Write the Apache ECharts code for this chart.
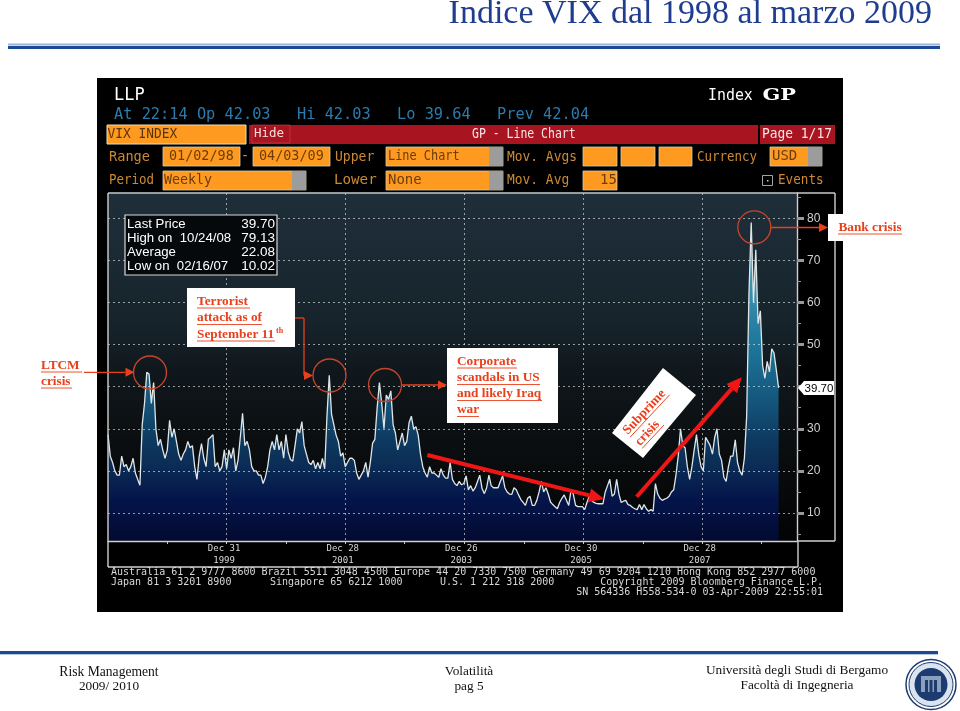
<!DOCTYPE html>
<html><head><meta charset="utf-8">
<script src="https://cdn.jsdelivr.net/npm/echarts@6/dist/echarts.min.js"></script>
<style>html,body{margin:0;padding:0;background:#fff}#c{width:960px;height:711px}</style>
</head><body><div id="c"></div>
<script>
// fortnightly VIX closes, starting 2 Jan 1998
const vix1998_2000 = [28.6,23.5,22,20,19,19,23.5,21,21.5,20,21,23,19.5,18,16.6,31,36,43.4,43,36,41,30,26,27.5,25,23,25,32,28,30,27,24,22.5,24,25,27,25.5,26,21,18,23.5,26.5,23,21,27.5,28,28.6,21,22,20,21,25,20.5,25,23,25.5,20,22.5,28,33.7,26,27,25,21,20,20,19,19,17,18.5,21,25];
const vix2000_2003 = [27,25,28.6,25,27,23,28.6,24.5,22.7,22.3,26,30,29,31.7,26,24,22,21.5,22.5,20.5,22,20.5,23,20.5,33,42.7,33.5,31,28.5,27,23.5,24.3,21,22,23,23,22.5,19.5,18,19,20,22,18.5,22,26.6,27.5,35,41,36,30,38,37,39,31,29,25,27,29,26,27,31.5,33,30,30.5,28.5,24,21,19.5,18.5,21,19.5,19.5,19,18.5];
const vix2003_2006 = [20.5,19,18.3,18.3,22,18,17,16.5,17.5,16.7,17,18.8,15.5,16.5,15.2,16,17.5,19,15.8,14.6,16,19,16.5,16,16,16,17.5,18.8,16,15,14.5,14.4,16,15.5,14.3,13.2,12.5,11.8,13.5,14,11.8,11.8,13,15,17.5,15,16,14.5,12.6,12,11.5,11,12.5,13.5,14.3,13,11.8,15.5,14.5,11.8,11.5,11.5,11.5,10.8,12.5,14,13,12.5,12.3,12.2,12.2,12.2];
const vix2006_2009 = [15,16.5,18,14,14.5,18,14.5,12.5,12.8,13,12,11.8,11.3,11,10.8,12,10.8,12,11,10.4,10.8,10.4,17,14.5,13.5,13,13.3,13.5,14,15,15.5,19,23.5,30,26,25.5,21,18,21,25,28.6,24,21,20,28,27,26,24,28,30,24,22.5,18.5,17.5,21,23.5,23.5,27.4,22,20,19,23,33,62,79,60,72.5,55,58,45,42,46,43.5,49,48,44,39.7];
const startDate = Date.UTC(1998,0,2);
const endDate = Date.UTC(2009,7,1);
const stepDays = 14;
const labelDates = [Date.UTC(1999,11,31),Date.UTC(2001,11,28),Date.UTC(2003,11,26),Date.UTC(2005,11,30),Date.UTC(2007,11,28)];
const labelText = ['Dec 31\n1999','Dec 28\n2001','Dec 26\n2003','Dec 30\n2005','Dec 28\n2007'];
const oddYearTicks = [Date.UTC(1998,11,31),Date.UTC(2000,11,29),Date.UTC(2002,11,27),Date.UTC(2004,11,31),Date.UTC(2006,11,29),Date.UTC(2008,11,26)];
const majorTicks = [10,20,30,40,50,60,70,80];
const minorTicks = [5,15,25,35,45,55,65,75,85];

const vix = [].concat(vix1998_2000,vix2000_2003,vix2003_2006,vix2006_2009);
const seriesData = vix.map((v,i)=>[startDate+i*stepDays*86400000,v]);

const MONO='"DejaVu Sans Mono",monospace', SANS='"Liberation Sans",Arial,sans-serif', SERIF='"Liberation Serif",serif';
const OR='#ff9a20', ANN='#e8401c', ANNS=13.3;
const els=[];
const rect=(x,y,w,h,fill,z,stroke,lw)=>els.push({type:'rect',z:z||20,silent:true,shape:{x,y,width:w,height:h},style:{fill:fill||'transparent',stroke:stroke||null,lineWidth:lw||1}});
const txt=(x,y,t,o)=>{o=o||{};els.push({type:'text',z:o.z||22,silent:true,x,y,scaleX:o.sx||1,rotation:o.rot||0,style:{text:t,fill:o.c||'#fff',font:(o.w||'normal')+' '+(o.s||15)+'px '+(o.f||MONO),align:o.a||'left',verticalAlign:'middle'}});};
const line=(x1,y1,x2,y2,c,w,z)=>els.push({type:'line',z:z||20,silent:true,shape:{x1,y1,x2,y2},style:{stroke:c,lineWidth:w||1}});
const poly=(pts,c,z)=>els.push({type:'polygon',z:z||31,silent:true,shape:{points:pts},style:{fill:c}});
const arrow=(x1,y1,x2,y2,c,w,hl,hw)=>{const a=Math.atan2(y2-y1,x2-x1),bx=x2-hl*Math.cos(a),by=y2-hl*Math.sin(a),nx=-Math.sin(a),ny=Math.cos(a);
 line(x1,y1,bx,by,c,w,31);poly([[x2,y2],[bx+nx*hw,by+ny*hw],[bx-nx*hw,by-ny*hw]],c);};
const circle=(cx,cy,r=16.5)=>els.push({type:'circle',z:31,silent:true,shape:{cx,cy,r},style:{fill:'transparent',stroke:'#c8442a',lineWidth:1.3}});
const ulabel=(x,y,t,o)=>{o=o||{};txt(x,y,t,{f:SERIF,w:'bold',s:ANNS,c:ANN,z:33,a:o.a});
 const w=o.wd; const x0=o.a==='center'?x-w/2:x; line(x0,y+6.5,x0+w,y+6.5,ANN,.9,33);};

// page
txt(932,14,'Indice VIX dal 1998 al marzo 2009',{f:SERIF,s:34,c:'#1f3d8f',a:'right'});
rect(8,43.5,932,2,'#9db4d8',20);rect(8,46,932,3,'#1c4a94',20);
rect(0,651,938,3,'#1c4a94',20);rect(0,654,938,1,'#b8c8de',20);
// panel
rect(97,78,746,534,'#000',-5);
txt(114,95.5,'LLP',{s:17});
txt(708,95.5,'Index',{s:16,sx:.93});
txt(762.5,95.5,'GP',{s:16,w:'bold',f:'"DejaVu Serif",serif',sx:1.3});
[[114,'At 22:14 Op 42.03'],[297,'Hi 42.03'],[397,'Lo 39.64'],[497,'Prev 42.04']].forEach(a=>txt(a[0],115,a[1],{c:'#2a7cae',s:15.3}));
// red bar
rect(249,125,586,19,'#a81420',20);rect(758,125,2,19,'#000',21);
rect(252,125,38,18,'#a81420',21,'#d0404a',.6);
txt(254,133.5,'Hide',{s:12.5,c:'#f6dede'});
txt(472,134.5,'GP - Line Chart',{s:14,c:'#f6e6e6',sx:.82});
txt(762,134.5,'Page 1/17',{s:14.5,c:'#f6e6e6',sx:.89});
rect(107,125,139,19,OR,20,'#e8dcc0',1);
txt(107.5,134.5,'VIX INDEX',{s:14,c:'#5a3408',sx:.92});
// field rows
const box=(x,y,w,gray,t,o)=>{o=o||{};rect(x,y,w,19,OR,20,'#d8ccb0',.8);if(gray)rect(x+w-gray,y,gray,19,'#9c9c9c',21);
 if(t)txt(x+(o.dx==null?2:o.dx),y+9.5,t,{s:14,c:'#6a3c0c',sx:o.sx||1});};
const lab=(x,y,t,sx)=>txt(x,y,t,{s:14.2,c:'#cc8a34',sx:sx||1});
lab(109,157,'Range',.96);lab(109,180.5,'Period',.88);
box(163,147,77,0,'01/02/98',{dx:6,sx:.96});txt(245,156,'-',{s:14,c:'#cc8a34',a:'center'});box(253,147,77,0,'04/03/09',{dx:6,sx:.96});
lab(335,157,'Upper',.92);box(386,147,117,14,'Line Chart',{sx:.85});lab(507,157,'Mov. Avgs',.91);
box(583,147,34,0);box(621,147,34,0);box(659,147,33,0);
lab(697,157,'Currency',.88);box(770,147,52,14,'USD');
box(163,171,143,14,'Weekly',{dx:1,sx:.95});lab(334,180.5,'Lower');box(386,171,117,14,'None');lab(507,180.5,'Mov. Avg',.91);box(583,171,34,0,'15',{dx:17});
rect(762.5,175.5,10,10,'transparent',20,'#ccc',.8);rect(767,180,1.5,1.5,'#ccc',20);lab(778,180.5,'Events',.89);
// frame
line(108,193,835,193,'#c8c8c8',1.4,20);line(108,193,108,567,'#d0d0d0',1.4,20);line(108,567,798,567,'#d0d0d0',1.4,20);line(798,541,798,567,'#d0d0d0',1.4,20);line(798,541,835,541,'#d0d0d0',1.4,20);line(835,193,835,541,'#d0d0d0',1.4,20);
// stats box
rect(125,215,152,60,'#06090c',20,'#d8d8d8',1.2);
[['Last Price','39.70'],['High on  10/24/08','79.13'],['Average','22.08'],['Low on  02/16/07','10.02']].forEach((r,i)=>{
 txt(127,224.5+i*14,r[0],{f:SANS,s:13.2});txt(275,224.5+i*14,r[1],{f:SANS,s:13.5,a:'right'});});
// last price tag
poly([[798,388],[804,381],[834,381],[834,395],[804,395]],'#fff',22);
txt(819,388.5,'39.70',{f:SANS,s:11.5,c:'#000',a:'center',z:23});
// footer of panel
[['Australia 61 2 9777 8600 Brazil 5511 3048 4500 Europe 44 20 7330 7500 Germany 49 69 9204 1210 Hong Kong 852 2977 6000',111,572,'left'],
 ['Japan 81 3 3201 8900',111,582,'left'],['Singapore 65 6212 1000',270,582,'left'],['U.S. 1 212 318 2000',440,582,'left'],
 ['Copyright 2009 Bloomberg Finance L.P.',823,582,'right'],['SN 564336 H558-534-0 03-Apr-2009 22:55:01',823,592,'right']
].forEach(r=>txt(r[1],r[2],r[0],{s:10,c:'#d8d8d8',a:r[3]}));
// annotation boxes
rect(828,214,83,27,'#fff',30);ulabel(870,227.5,'Bank crisis',{a:'center',wd:64});
rect(187,288,108,59,'#fff',30);
ulabel(197,301.5,'Terrorist',{wd:53});ulabel(197,318,'attack as of',{wd:65});ulabel(197,334.5,'September 11',{wd:78});
txt(276,331,'th',{f:SERIF,w:'bold',s:8,c:ANN,z:33});
ulabel(41,365.5,'LTCM',{wd:41});ulabel(41,381.5,'crisis',{wd:31});
rect(447,348,111,75,'#fff',30);
ulabel(457,361.5,'Corporate',{wd:60});ulabel(457,378,'scandals in US',{wd:83});ulabel(457,394,'and likely Iraq',{wd:85});ulabel(457,410,'war',{wd:22});
// rotated subprime box
poly([[663,368],[696,395],[643,458],[612,433]],'#fff',30);
els.push({type:'group',z:33,x:654,y:413,rotation:47*Math.PI/180,silent:true,children:[
 {type:'text',z:33,x:-34,y:-7.5,style:{text:'Subprime',fill:ANN,font:'bold '+ANNS+'px '+SERIF,align:'left',verticalAlign:'middle'}},
 {type:'text',z:33,x:-34,y:9,style:{text:'crisis',fill:ANN,font:'bold '+ANNS+'px '+SERIF,align:'left',verticalAlign:'middle'}},
 {type:'line',z:33,shape:{x1:-34,y1:-1,x2:24,y2:-1},style:{stroke:ANN,lineWidth:.9}},
 {type:'line',z:33,shape:{x1:-34,y1:15.5,x2:-2,y2:15.5},style:{stroke:ANN,lineWidth:.9}}]});
// circles and arrows
circle(150,372.5);circle(329.5,375.5);circle(385,385);circle(754.3,227.3);
arrow(84,372.3,134.5,372.3,ANN,1.3,9,4.5);
line(295,318,304,318,ANN,1.3,31);line(304,318,304,375.5,ANN,1.3,31);arrow(304,375.5,313,375.5,ANN,1.3,9,4.5);
arrow(402,385,447,385,ANN,1.3,9,4.5);
arrow(771,227.5,828,227.5,ANN,1.3,9,4.5);
arrow(427.3,455,604,499,'#f01616',4,15,7);
arrow(636.7,496.7,741.7,377.3,'#f01616',4,15,7);
// page footer
[['Risk Management',109,672,13.6],['2009/ 2010',109,687,13.3],['Volatilità',469,672,13.3],['pag 5',469,687,13.3],['Università degli Studi di Bergamo',797,671,13.3],['Facoltà di Ingegneria',797,686,13.3]]
 .forEach(r=>txt(r[1],r[2],r[0],{f:SERIF,s:r[3],c:'#111',a:'center'}));
// university seal
els.push({type:'circle',z:20,silent:true,shape:{cx:931,cy:684.5,r:25},style:{fill:'#fff',stroke:'#1c3c70',lineWidth:1.5}});
els.push({type:'circle',z:20,silent:true,shape:{cx:931,cy:684.5,r:22},style:{fill:'#dbe4ee',stroke:'#1c3c70',lineWidth:1}});
els.push({type:'circle',z:20,silent:true,shape:{cx:931,cy:684.5,r:16.5},style:{fill:'#1c3c70'}});
rect(921,676,20,16,'#8aa0bc',21);rect(925,680,3,12,'#1c3c70',22);rect(929.5,680,3,12,'#1c3c70',22);rect(934,680,3,12,'#1c3c70',22);

const chart=echarts.init(document.getElementById('c'),null,{renderer:'canvas'});
chart.setOption({
 animation:false,backgroundColor:'#fff',
 graphic:{elements:els},
 grid:{left:108,right:163,top:193,bottom:170,show:true,borderWidth:0,
  backgroundColor:{type:'linear',x:0,y:0,x2:0,y2:1,colorStops:[{offset:0,color:'#1f2f3a'},{offset:.38,color:'#16232b'},{offset:.5,color:'#10181d'},{offset:.72,color:'#0b0e10'},{offset:1,color:'#020304'}]}},
 xAxis:[{type:'value',min:startDate,max:endDate,z:3,
   axisLine:{show:true,lineStyle:{color:'#d0d0d0',width:1.4}},
   axisTick:{show:true,customValues:labelDates,length:3,lineStyle:{color:'#ccc'}},
   axisLabel:{show:true,customValues:labelDates,margin:2,color:'#d8d8d8',fontFamily:MONO,fontSize:9,lineHeight:12,padding:[0,5,0,0],hideOverlap:false,
     formatter:(v)=>labelText[labelDates.indexOf(+v)]||''},
   splitLine:{show:true,lineStyle:{color:'rgba(225,225,225,.65)',type:[2,3],width:1}}},
  {type:'value',position:'bottom',min:startDate,max:endDate,z:3,
   axisLine:{show:false},axisLabel:{show:false},splitLine:{show:false},
   axisTick:{show:true,customValues:oddYearTicks,length:3,lineStyle:{color:'#ccc'}}}],
 yAxis:[{type:'value',position:'right',min:3.35,max:86,z:3,
   axisLine:{show:true,lineStyle:{color:'#d0d0d0',width:1.4}},
   axisTick:{show:true,customValues:majorTicks,length:7,lineStyle:{color:'#999',width:3}},
   axisLabel:{show:true,customValues:majorTicks,margin:10,color:'#d0d0d0',fontFamily:SANS,fontSize:12},
   splitLine:{show:true,lineStyle:{color:'rgba(225,225,225,.65)',type:[2,3],width:1}}},
  {type:'value',position:'right',min:3.35,max:86,z:3,
   axisLine:{show:false},axisLabel:{show:false},splitLine:{show:false},
   axisTick:{show:true,customValues:minorTicks,length:4,lineStyle:{color:'#999',width:1}}}],
 series:[{type:'line',name:'VIX Index',data:seriesData,showSymbol:false,symbol:'none',z:2,clip:true,
  lineStyle:{color:'#dfe6e8',width:1.3},
  areaStyle:{opacity:1,color:{type:'linear',global:true,x:0,y:230,x2:0,y2:541,colorStops:[
   {offset:0,color:'#5ea8c0'},{offset:.35,color:'#1f7a9e'},{offset:.547,color:'#15567c'},{offset:.675,color:'#0e3a60'},{offset:.77,color:'#0a2a54'},{offset:.868,color:'#04144a'},{offset:1,color:'#020a30'}]}}}]
});
</script></body></html>
